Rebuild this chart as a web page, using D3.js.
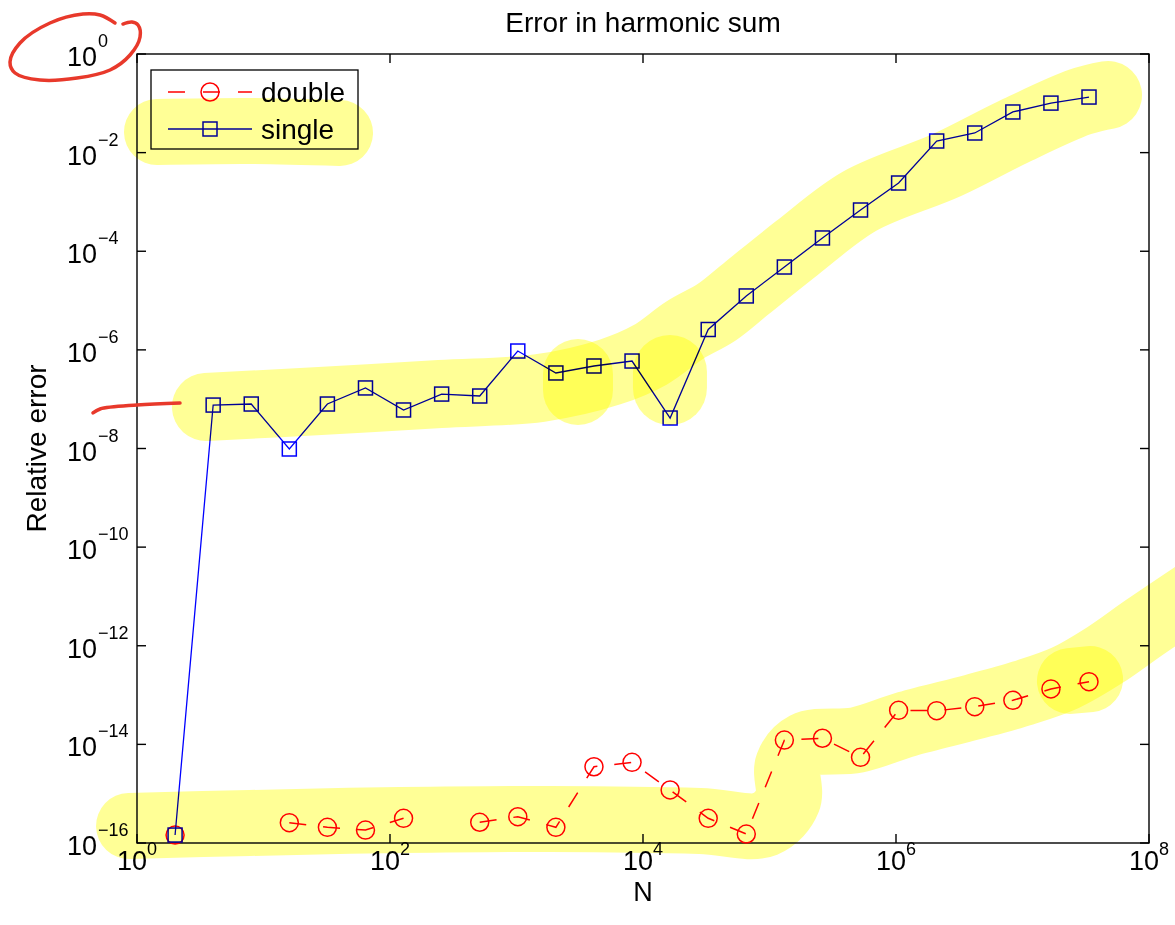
<!DOCTYPE html>
<html lang="en">
<head>
<meta charset="UTF-8">
<title>Error in harmonic sum</title>
<script src="https://d3js.org/d3.v7.min.js"></script>
<style>
  body { margin: 0; background: #fff; }
  svg { display: block; font-family: "Liberation Sans", Arial, Helvetica, sans-serif; }
</style>
</head>
<body>
<div id="chart"></div>
<script>
// N = 2^1 ... 2^25
const N = [2, 4, 8, 16, 32, 64, 128, 256, 512, 1024, 2048, 4096, 8192, 16384, 32768, 65536,
    131072, 262144, 524288, 1048576, 2097152, 4194304, 8388608, 16777216, 33554432];

// relative error, null = exactly zero (not drawn on log axis)
const doubleErr = [1.45e-16, null, null, 2.58e-16, 2.08e-16, 1.83e-16, 3.17e-16, null, 2.63e-16,
    3.41e-16, 2.08e-16, 3.52e-15, 4.32e-15, 1.19e-15, 3.17e-16, 1.52e-16, 1.22e-14, 1.33e-14,
    5.47e-15, 4.91e-14, 4.82e-14, 5.81e-14, 7.83e-14, 1.33e-13, 1.87e-13];
const singleErr = [1.45e-16, 7.6e-8, 7.98e-8, 9.77e-9, 7.98e-8, 1.69e-7, 6.04e-8, 1.27e-7, 1.16e-7,
    9.48e-7, 3.40e-7, 4.71e-7, 5.94e-7, 4.15e-8, 2.59e-6, 1.24e-5, 4.79e-5, 1.86e-4,
    6.86e-4, 2.42e-3, 1.72e-2, 2.50e-2, 6.67e-2, 0.101, 0.134];

const seriesNames = ["double", "single"];
const xTickExp = [0, 2, 4, 6, 8];
const yTickExp = [0, -2, -4, -6, -8, -10, -12, -14, -16];

// hand annotations, points given in decades [log10 N, log10 error]
const highlights = [
    { w: 66, pts: [[0.158, -1.582], [0.893, -1.561], [1.605, -1.602]] },
    { w: 68, pts: [[0.545, -7.158], [1.447, -7.037], [2.395, -6.895], [3.186, -6.773], [3.739, -6.449],
        [4.055, -6.104], [4.332, -5.597], [4.585, -5.232], [4.822, -4.745], [5.217, -3.934],
        [5.715, -2.981], [6.403, -2.251], [6.925, -1.582], [7.455, -0.973], [7.676, -0.831]] },
    { w: 70, pts: [[3.486, -6.489], [3.486, -6.814]] },
    { w: 74, pts: [[4.213, -6.449], [4.213, -6.773]] },
    { w: 66, pts: [[-0.063, -15.655], [0.893, -15.594], [2.079, -15.534], [3.265, -15.513], [4.451, -15.554],
        [4.964, -15.615], [5.146, -15.128], [5.146, -14.418], [5.281, -14.013], [5.692, -13.911],
        [6.087, -13.587], [6.609, -13.242], [7.004, -12.958], [7.336, -12.654], [7.652, -12.188],
        [7.968, -11.620], [8.403, -10.869]] },
    { w: 66, pts: [[7.375, -12.715], [7.534, -12.675]] }
];
const penMarks = [
    [[-0.174, 0.629], [-0.292, 0.791], [-0.427, 0.811], [-0.688, 0.629], [-0.925, 0.223], [-1.004, -0.162],
     [-0.964, -0.385], [-0.767, -0.527], [-0.474, -0.487], [-0.213, -0.324], [-0.055, -0.020],
     [0.024, 0.345], [0.008, 0.588], [-0.040, 0.649], [-0.111, 0.608]],
    [[-0.348, -7.280], [-0.292, -7.199], [0, -7.118], [0.340, -7.077]]
];

const width = 1175, height = 925;
const margin = { top: 54, right: 26, bottom: 82, left: 137 };

const svg = d3.select("#chart").append("svg")
    .attr("width", width)
    .attr("height", height);

svg.append("rect").attr("width", width).attr("height", height).attr("fill", "#fff");

const x = d3.scaleLog().domain([1, 1e8]).range([margin.left, width - margin.right]);
const y = d3.scaleLog().domain([1e-16, 1]).range([height - margin.bottom, margin.top]);
const x0 = x.range()[0], x1 = x.range()[1], y0 = y.range()[1], y1 = y.range()[0];

// axes box with inward ticks
const axes = svg.append("g").attr("stroke", "#000").attr("stroke-width", 1.4);
xTickExp.forEach(e => {
    const px = x(10 ** e);
    axes.append("line").attr("x1", px).attr("x2", px).attr("y1", y1).attr("y2", y1 - 9);
    axes.append("line").attr("x1", px).attr("x2", px).attr("y1", y0).attr("y2", y0 + 9);
});
yTickExp.forEach(e => {
    const py = y(10 ** e);
    axes.append("line").attr("x1", x0).attr("x2", x0 + 9).attr("y1", py).attr("y2", py);
    axes.append("line").attr("x1", x1).attr("x2", x1 - 9).attr("y1", py).attr("y2", py);
});
axes.append("rect").attr("x", x0).attr("y", y0).attr("width", x1 - x0).attr("height", y1 - y0)
    .attr("fill", "none");

const expText = e => (e < 0 ? "\u2212" + (-e) : "" + e);

// x tick labels, whole "10^k" centred on tick
xTickExp.forEach(e => {
    const t = svg.append("text")
        .attr("x", x(10 ** e))
        .attr("y", y1 + 27)
        .attr("text-anchor", "middle")
        .attr("font-size", 27);
    t.append("tspan").text("10");
    t.append("tspan").attr("dy", -15).attr("font-size", 18).text(expText(e));
});

// y tick labels: base right aligned, exponent hanging to the right
yTickExp.forEach(e => {
    const py = y(10 ** e);
    svg.append("text").attr("x", x0 - 40).attr("y", py + 12)
        .attr("text-anchor", "end").attr("font-size", 27).text("10");
    svg.append("text").attr("x", x0 - 39).attr("y", py - 7)
        .attr("font-size", 18).text(expText(e));
});

svg.append("text")
    .attr("x", (x0 + x1) / 2).attr("y", 32)
    .attr("text-anchor", "middle").attr("font-size", 28)
    .text("Error in harmonic sum");

svg.append("text")
    .attr("x", (x0 + x1) / 2).attr("y", 901)
    .attr("text-anchor", "middle").attr("font-size", 27)
    .text("N");

svg.append("text")
    .attr("transform", `translate(46,${(y0 + y1) / 2}) rotate(-90)`)
    .attr("text-anchor", "middle").attr("font-size", 28)
    .text("Relative error");

// double series
const dbl = N.map((n, i) => ({ n, v: doubleErr[i] }));
svg.append("path")
    .datum(dbl)
    .attr("fill", "none")
    .attr("stroke", "#ff0000")
    .attr("stroke-width", 1.5)
    .attr("stroke-dasharray", "17,17")
    .attr("d", d3.line().defined(d => d.v != null).x(d => x(d.n)).y(d => y(d.v)));
svg.append("g").selectAll("circle")
    .data(dbl.filter(d => d.v != null))
    .join("circle")
    .attr("cx", d => x(d.n)).attr("cy", d => y(d.v)).attr("r", 9)
    .attr("fill", "none").attr("stroke", "#ff0000").attr("stroke-width", 1.5);

// single series
const sgl = N.map((n, i) => ({ n, v: singleErr[i] }));
svg.append("path")
    .datum(sgl)
    .attr("fill", "none")
    .attr("stroke", "#0000ff")
    .attr("stroke-width", 1.3)
    .attr("d", d3.line().x(d => x(d.n)).y(d => y(d.v)));
svg.append("g").selectAll("rect")
    .data(sgl)
    .join("rect")
    .attr("x", d => x(d.n) - 7).attr("y", d => y(d.v) - 7)
    .attr("width", 14).attr("height", 14)
    .attr("fill", "none").attr("stroke", "#0000ff").attr("stroke-width", 1.5);

// legend
const lg = svg.append("g");
lg.append("rect").attr("x", 151).attr("y", 70).attr("width", 207).attr("height", 79)
    .attr("fill", "#fff").attr("stroke", "#000").attr("stroke-width", 1.3);
seriesNames.forEach((name, i) => {
    const ly = 92 + i * 37;
    const col = i === 0 ? "#ff0000" : "#0000ff";
    lg.append("line").attr("x1", 168).attr("x2", 252).attr("y1", ly).attr("y2", ly)
        .attr("stroke", col).attr("stroke-width", i === 0 ? 1.5 : 1.3)
        .attr("stroke-dasharray", i === 0 ? "17,18" : null);
    if (i === 0) {
        lg.append("circle").attr("cx", 210).attr("cy", ly).attr("r", 9)
            .attr("fill", "none").attr("stroke", col).attr("stroke-width", 1.5);
    } else {
        lg.append("rect").attr("x", 203).attr("y", ly - 7).attr("width", 14).attr("height", 14)
            .attr("fill", "none").attr("stroke", col).attr("stroke-width", 1.5);
    }
    lg.append("text").attr("x", 261).attr("y", ly + 10).attr("font-size", 28).text(name);
});

// highlighter on top, multiplied
const dec = d3.line()
    .x(d => x(10 ** d[0]))
    .y(d => y(10 ** d[1]))
    .curve(d3.curveCatmullRom.alpha(0.5));
highlights.forEach(h => {
    svg.append("path")
        .attr("d", dec(h.pts))
        .attr("fill", "none")
        .attr("stroke", "#ffff96")
        .attr("stroke-width", h.w)
        .attr("stroke-linecap", "round")
        .attr("stroke-linejoin", "round")
        .style("mix-blend-mode", "multiply");
});

// red pen marks
penMarks.forEach(p => {
    svg.append("path")
        .attr("d", dec(p))
        .attr("fill", "none")
        .attr("stroke", "#e8392b")
        .attr("stroke-width", 3.5)
        .attr("stroke-linecap", "round")
        .attr("stroke-linejoin", "round");
});
</script>
</body>
</html>
